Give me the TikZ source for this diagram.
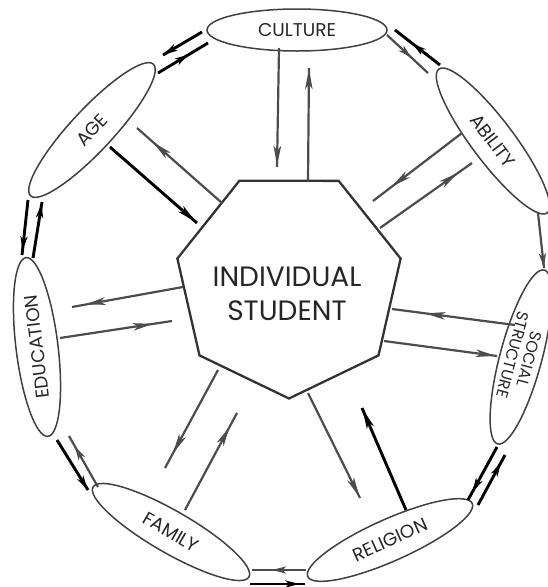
\documentclass[tikz,border=0pt]{standalone}
\usepackage{fontspec}
\setmainfont{Poppins}
\usetikzlibrary{shapes.geometric,arrows.meta,decorations.markings}
\begin{document}
\begin{tikzpicture}[x=1pt,y=-1pt,
  ell/.style={ellipse, draw=black!75, line width=1.5pt, inner sep=0pt,
    minimum width=180pt, minimum height=42pt,
    font=\fontsize{18.5}{20}\selectfont, text=black!85},
  lt/.style={draw=black!70, line width=2.2pt},
  dk/.style={draw=black, line width=2.9pt},
  hd/.style={postaction={decorate}, decoration={markings,
    mark=at position #1 with {\arrow{Stealth[length=20pt,width=7.5pt,inset=5pt]}}}},
  shd/.style={postaction={decorate}, decoration={markings,
    mark=at position #1 with {\arrow{Stealth[length=14pt,width=7pt,inset=3.5pt]}}}}]
\useasboundingbox (0,0) rectangle (548,587);

% outer ellipses
\node[ell] (cult) at (297,30) {CULTURE};
\node[ell, rotate=-53] (abil) at (493,141) {ABILITY};
\node[ell, rotate=-105, align=center, font=\fontsize{16}{17}\selectfont] (soc) at (521,357) {SOCIAL\\STRUCTURE};
\node[ell, rotate=24] (rel) at (390,540) {RELIGION};
\node[ell, rotate=-30] (fam) at (171,532) {FAMILY};
\node[ell, rotate=97] (edu) at (37,347) {EDUCATION};
\node[ell, rotate=47] (age) at (92,130) {AGE};

% centre
\node[regular polygon, regular polygon sides=7, shape border rotate=180,
  draw=black!80, line width=2.3pt, minimum size=229pt, inner sep=0pt] (hep) at (289,284) {};
\node[font=\fontsize{28}{34}\selectfont, align=center, text=black!85] (stud) at (287,294) {INDIVIDUAL\\STUDENT};

% arrow end points (circle)
\coordinate (c1a) at (202,32);  \coordinate (c1b) at (163,55);
\coordinate (c2a) at (158,73);  \coordinate (c2b) at (208,43);
\coordinate (c3a) at (440,65);  \coordinate (c3b) at (395,30);
\coordinate (c4a) at (387,35);  \coordinate (c4b) at (428,73);
\coordinate (c5a) at (538,213); \coordinate (c5b) at (544,268);
\coordinate (c6a) at (497,447); \coordinate (c6b) at (468,500);
\coordinate (c7a) at (478,505); \coordinate (c7b) at (505,455);
\coordinate (c8a) at (306,570); \coordinate (c8b) at (252,570);
\coordinate (c9a) at (250,584); \coordinate (c9b) at (305,584);
\coordinate (c10a) at (57,440); \coordinate (c10b) at (88,490);
\coordinate (c11a) at (98,487); \coordinate (c11b) at (69,436);
\coordinate (c12a) at (28,200); \coordinate (c12b) at (22,255);
\coordinate (c13a) at (33,258); \coordinate (c13b) at (42,202);
% arrow end points (radial)
\coordinate (r1a) at (110,147); \coordinate (r1b) at (197,223);
\coordinate (r2a) at (222,203); \coordinate (r2b) at (137,128);
\coordinate (r3a) at (279,48);  \coordinate (r3b) at (277,167);
\coordinate (r4a) at (308,181); \coordinate (r4b) at (309,68);
\coordinate (r5a) at (462,133); \coordinate (r5b) at (373,201);
\coordinate (r6a) at (380,228); \coordinate (r6b) at (472,163);
\coordinate (r7a) at (515,325); \coordinate (r7b) at (392,309);
\coordinate (r8a) at (384,341); \coordinate (r8b) at (497,356);
\coordinate (r9a) at (308,393); \coordinate (r9b) at (360,498);
\coordinate (r10a) at (406,510); \coordinate (r10b) at (362,408);
\coordinate (r11a) at (218,370); \coordinate (r11b) at (165,468);
\coordinate (r12a) at (185,510); \coordinate (r12b) at (237,413);
\coordinate (r13a) at (183,287); \coordinate (r13b) at (72,307);
\coordinate (r14a) at (60,338);  \coordinate (r14b) at (172,321);

% circle arrows
\draw[dk, shd=0.99] (c1a) -- (c1b);
\draw[dk, shd=0.62] (c2a) -- (c2b);
\draw[dk, shd=0.62] (c3a) -- (c3b);
\draw[lt, shd=0.6] (c4a) -- (c4b);
\draw[lt, shd=0.99] (c5a) -- (c5b);
\draw[dk, shd=0.85] (c6a) -- (c6b);
\draw[dk, shd=0.85] (c7a) -- (c7b);
\draw[lt, shd=0.63] (c8a) -- (c8b);
\draw[dk, shd=0.9] (c9a) -- (c9b);
\draw[dk, shd=0.99] (c10a) -- (c10b);
\draw[lt, shd=0.8] (c11a) -- (c11b);
\draw[dk, shd=0.92] (c12a) -- (c12b);
\draw[dk, shd=0.97] (c13a) -- (c13b);

% radial arrows
\draw[dk, hd=0.99] (r1a) -- (r1b);
\draw[lt, hd=0.81] (r2a) -- (r2b);
\draw[lt, hd=0.99] (r3a) -- (r3b);
\draw[lt, hd=0.99] (r4a) -- (r4b);
\draw[lt, hd=0.79] (r5a) -- (r5b);
\draw[lt, hd=0.85] (r6a) -- (r6b);
\draw[lt, hd=0.73] (r7a) -- (r7b);
\draw[lt, hd=0.99] (r8a) -- (r8b);
\draw[lt, hd=0.99] (r9a) -- (r9b);
\draw[dk, hd=0.99] (r10a) -- (r10b);
\draw[lt, hd=0.85] (r11a) -- (r11b);
\draw[lt, hd=0.86] (r12a) -- (r12b);
\draw[lt, hd=0.88] (r13a) -- (r13b);
\draw[lt, hd=0.83] (r14a) -- (r14b);
\end{tikzpicture}
\end{document}
